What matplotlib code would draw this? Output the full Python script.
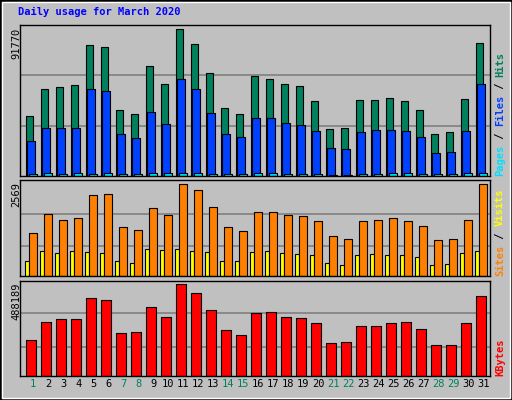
import matplotlib
matplotlib.use("Agg")
import matplotlib.pyplot as plt
from matplotlib.patches import Rectangle

days = list(range(1, 32))
hits = [37750, 54340, 55590, 56840, 81870, 80620, 41500, 39000, 69040, 57800, 91770, 82400, 64250, 42750, 39000, 62380, 60500, 57380, 56130, 46750, 29600, 30250, 47380, 47380, 48630, 46750, 41130, 26260, 27500, 48000, 83030]
files = [22100, 30000, 30000, 30000, 54340, 53090, 26260, 23760, 40000, 32500, 60500, 54300, 39400, 26260, 24380, 36250, 36250, 33130, 31880, 28130, 17500, 16880, 27500, 28750, 28750, 28130, 24380, 14600, 15200, 28130, 57800]
pages = [1500, 1900, 1500, 1900, 1500, 1900, 1500, 1500, 1900, 1900, 1900, 1900, 1500, 1500, 1500, 1900, 1900, 1500, 1500, 1500, 600, 600, 1500, 1500, 1900, 1900, 1500, 1500, 1500, 1900, 1900]
visits = [1196, 1729, 1561, 1617, 2256, 2284, 1364, 1280, 1897, 1701, 2569, 2401, 1925, 1364, 1252, 1785, 1785, 1701, 1673, 1533, 1112, 1028, 1533, 1561, 1617, 1533, 1393, 1000, 1028, 1561, 2569]
sites = [420, 700, 644, 700, 672, 644, 420, 364, 755, 727, 755, 700, 672, 420, 420, 672, 700, 644, 616, 588, 364, 308, 588, 616, 588, 588, 532, 308, 336, 644, 700]
kbytes = [189300, 285500, 301600, 301600, 413800, 403100, 226800, 232100, 365700, 312300, 488189, 440100, 349700, 242800, 216100, 333600, 339000, 312300, 306900, 280200, 173300, 178600, 264200, 264200, 280200, 285500, 248100, 162600, 162600, 280200, 424500]
weekend = {1, 7, 8, 14, 15, 21, 22, 28, 29}

BG = "#C0C0C0"
W, H = 512, 400
fig = plt.figure(figsize=(5.12, 4.0), dpi=100, facecolor=BG)
fig.patches.append(Rectangle((0, 0), 1, 1, transform=fig.transFigure, fill=False, ec="#000000", lw=2))
fig.patches.append(Rectangle((2/W, 2/H), 1-4/W, 1-4/H, transform=fig.transFigure, fill=False, ec="#FFFFFF", lw=1))

def mkax(top, bot):
    ax = fig.add_axes([20/W, 1-bot/H, 470/W, (bot-top)/H], facecolor=BG)
    ax.set_xlim(0.62, 0.62 + 470/15)
    for s in ax.spines.values():
        s.set_color("black"); s.set_linewidth(1)
    ax.set_xticks([]); ax.set_yticks([])
    return ax

mono = dict(family="DejaVu Sans Mono", fontweight="bold", fontsize=7.5)

ax1 = mkax(25, 176)
ym = max(hits) * 1.03
ax1.set_ylim(0, ym)
for g in (ym/3, 2*ym/3):
    ax1.axhline(g, color="#808080", lw=1.2, zorder=0)
kw = dict(align="edge", edgecolor="black", linewidth=0.8)
ax1.bar([d for d in days], hits, width=0.47, color="#00805C", **kw)
ax1.bar([d + 0.11 for d in days], files, width=0.49, color="#0040FF", **kw)
ax1.bar([d + 0.24 for d in days], pages, width=0.49, color="#00E0FF", **kw)

ax2 = mkax(180, 276)
ym = max(visits) * 1.047
ax2.set_ylim(0, ym)
for g in (ym*0.31, ym*0.65):
    ax2.axhline(g, color="#808080", lw=1.2, zorder=0)
ax2.bar([d - 0.05 for d in days], sites, width=0.29, color="#FFFF00", **kw)
ax2.bar([d + 0.24 for d in days], visits, width=0.49, color="#FF8000", **kw)

ax3 = mkax(281, 376)
ym = max(kbytes) * 1.036
ax3.set_ylim(0, ym)
for g in (ym*0.31, ym*0.66):
    ax3.axhline(g, color="#808080", lw=1.2, zorder=0)
ax3.bar([d + 0.02 for d in days], kbytes, width=0.69, color="#FF0000", **kw)

for d in days:
    ax3.text(d + 0.5, -0.035, str(d), transform=ax3.get_xaxis_transform(), ha="center", va="top",
             color="#00805C" if d in weekend else "black", family="DejaVu Sans Mono", fontsize=7.5)

fig.text(18/W, 1-12/H, "Daily usage for March 2020", color="#0000FF", va="center", ha="left", **mono)
fig.text(16/W, 1-28/H, str(max(hits)), rotation=90, ha="center", va="top", color="black", family="DejaVu Sans Mono", fontsize=7.5)
fig.text(16/W, 1-182/H, str(max(visits)), rotation=90, ha="center", va="top", color="black", family="DejaVu Sans Mono", fontsize=7.5)
fig.text(16/W, 1-283/H, str(max(kbytes)), rotation=90, ha="center", va="top", color="black", family="DejaVu Sans Mono", fontsize=7.5)

def rlabel(parts, ybottom):
    # parts: list of (text, color) drawn bottom-to-top
    y = ybottom
    cw = 6.2
    for t, c in parts:
        fig.text(500/W, 1-y/H, t, rotation=90, ha="center", va="bottom", color=c, **mono)
        y -= cw * len(t)

rlabel([("Pages", "#00E0FF"), (" / ", "#000000"), ("Files", "#0040FF"), (" / ", "#000000"), ("Hits", "#00805C")], 176)
rlabel([("Sites", "#FF8000"), (" / ", "#000000"), ("Visits", "#FFFF00")], 276)
rlabel([("KBytes", "#FF0000")], 376)

fig.savefig("out.png", dpi=100, facecolor=BG)
